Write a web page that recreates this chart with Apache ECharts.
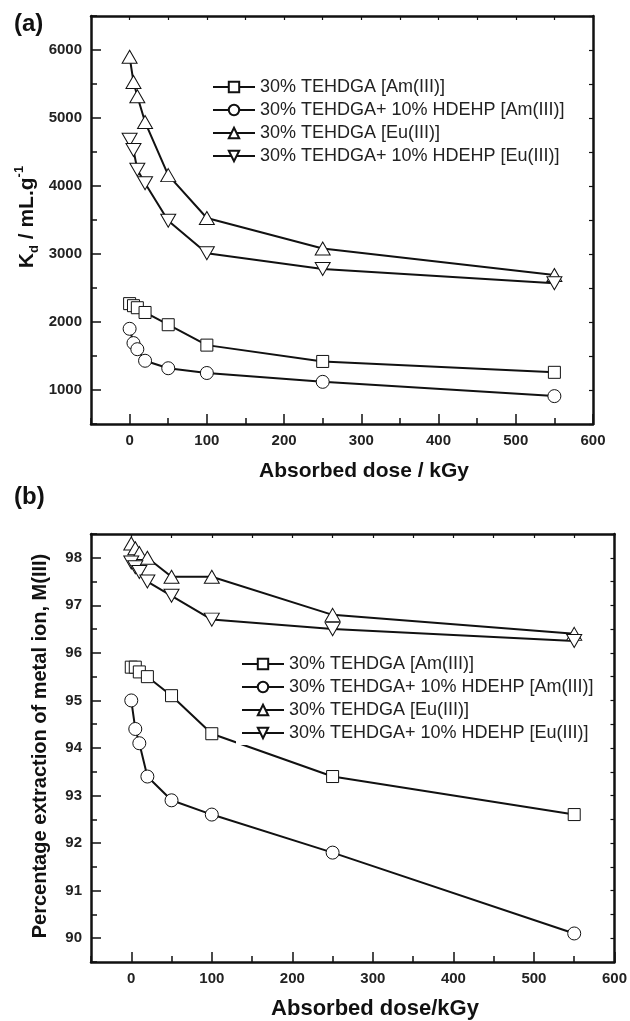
<!DOCTYPE html>
<html>
<head>
<meta charset="utf-8">
<script src="https://cdn.jsdelivr.net/npm/echarts@6.0.0/dist/echarts.min.js"></script>
<style>
  html, body { margin: 0; padding: 0; background: #fff; }
  #main { width: 630px; height: 1021px; }
</style>
</head>
<body>
<div id="main"></div>
<script>
// absorbed dose (kGy)
const doses = [0, 5, 10, 20, 50, 100, 250, 550];

const seriesNames = [
  '30% TEHDGA [Am(III)]',
  '30% TEHDGA+ 10% HDEHP [Am(III)]',
  '30% TEHDGA [Eu(III)]',
  '30% TEHDGA+ 10% HDEHP [Eu(III)]'
];

// (a) Kd / mL.g-1
const kdAmTehdga = [2270, 2240, 2210, 2140, 1960, 1660, 1420, 1260];
const kdAmHdehp = [1900, 1690, 1600, 1430, 1320, 1250, 1120, 910];
const kdEuTehdga = [5900, 5530, 5320, 4940, 4160, 3530, 3080, 2690];
const kdEuHdehp = [4680, 4530, 4240, 4040, 3490, 3010, 2780, 2570];

// (b) percentage extraction
const peAmTehdga = [95.7, 95.7, 95.6, 95.5, 95.1, 94.3, 93.4, 92.6];
const peAmHdehp = [95.0, 94.4, 94.1, 93.4, 92.9, 92.6, 91.8, 90.1];
const peEuTehdga = [98.3, 98.2, 98.1, 98.0, 97.6, 97.6, 96.8, 96.4];
const peEuHdehp = [97.9, 97.8, 97.7, 97.5, 97.2, 96.7, 96.5, 96.25];

// tick labels
const doseTicks = [0, 100, 200, 300, 400, 500, 600];
const kdTicks = [1000, 2000, 3000, 4000, 5000, 6000];
const peTicks = [90, 91, 92, 93, 94, 95, 96, 97, 98];

const FONT = '"Liberation Sans", Arial, sans-serif';
const INK = '#111';
const downTri = 'path://M0,0 L10,0 L5,9 Z';
const symbols = ['rect', 'circle', 'triangle', downTri];
const symbolSizes = [12, 13, [15, 13], [15, 13]];

const chart = echarts.init(document.getElementById('main'), null, { renderer: 'canvas' });

const plain = v => String(v);

function xAxes(g) {
  const base = { gridIndex: g, type: 'value', min: -50, max: 600, splitLine: { show: false } };
  return [
    Object.assign({}, base, {
      position: 'bottom',
      axisLine: { show: true, onZero: false, lineStyle: { color: INK, width: 2.5 } },
      axisTick: { show: true, inside: true, length: 10, customValues: doseTicks, lineStyle: { color: INK, width: 1.5 } },
      axisLabel: { customValues: doseTicks, formatter: plain, margin: 9, fontSize: 15, fontWeight: 'bold', color: '#222', fontFamily: FONT }
    }),
    Object.assign({}, base, {
      position: 'bottom', interval: 50,
      axisLine: { show: false, onZero: false },
      axisTick: { show: true, inside: true, length: 6, lineStyle: { color: INK, width: 1.5 } },
      axisLabel: { show: false }
    }),
    Object.assign({}, base, {
      position: 'top', interval: 50,
      axisLine: { show: true, onZero: false, lineStyle: { color: INK, width: 2.5 } },
      axisTick: { show: true, inside: true, length: 4, lineStyle: { color: INK, width: 1.2 } },
      axisLabel: { show: false }
    })
  ];
}

function yAxes(g, min, max, minorStep, ticks) {
  const base = { gridIndex: g, type: 'value', min: min, max: max, splitLine: { show: false } };
  return [
    Object.assign({}, base, {
      position: 'left',
      axisLine: { show: true, onZero: false, lineStyle: { color: INK, width: 2.5 } },
      axisTick: { show: true, inside: true, length: 10, customValues: ticks, lineStyle: { color: INK, width: 1.5 } },
      axisLabel: { customValues: ticks, formatter: plain, margin: 9, fontSize: 15, fontWeight: 'bold', color: '#222', fontFamily: FONT }
    }),
    Object.assign({}, base, {
      position: 'left', interval: minorStep,
      axisLine: { show: false, onZero: false },
      axisTick: { show: true, inside: true, length: 6, lineStyle: { color: INK, width: 1.5 } },
      axisLabel: { show: false }
    }),
    Object.assign({}, base, {
      position: 'right', interval: minorStep,
      axisLine: { show: true, onZero: false, lineStyle: { color: INK, width: 2.5 } },
      axisTick: { show: true, inside: true, length: 4, lineStyle: { color: INK, width: 1.2 } },
      axisLabel: { show: false }
    })
  ];
}

function lineSeries(i, values, xIdx, yIdx) {
  return {
    name: seriesNames[i],
    type: 'line',
    xAxisIndex: xIdx,
    yAxisIndex: yIdx,
    data: doses.map((d, k) => [d, values[k]]),
    symbol: symbols[i],
    symbolSize: symbolSizes[i],
    showAllSymbol: true,
    lineStyle: { color: INK, width: 2 },
    itemStyle: { color: '#fff', borderColor: INK, borderWidth: 1 },
    emphasis: { disabled: true },
    animation: false
  };
}

const legendBase = {
  orient: 'vertical',
  itemWidth: 42,
  itemHeight: 13,
  itemGap: 3,
  padding: [2, 5],
  data: seriesNames,
  selectedMode: false,
  textStyle: { fontSize: 18, lineHeight: 20, color: '#222', fontFamily: FONT }
};

const option = {
  backgroundColor: '#fff',
  animation: false,
  grid: [
    { left: 91, top: 16, width: 502, height: 408 },
    { left: 91, top: 534, width: 524, height: 428 }
  ],
  xAxis: xAxes(0).concat(xAxes(1)),
  yAxis: yAxes(0, 500, 6500, 500, kdTicks).concat(yAxes(1, 89.5, 98.5, 0.5, peTicks)),
  legend: [
    Object.assign({}, legendBase, { left: 207, top: 75 }),
    Object.assign({}, legendBase, { left: 236, top: 652, backgroundColor: '#fff' })
  ],
  series: [
    lineSeries(0, kdAmTehdga, 0, 0),
    lineSeries(1, kdAmHdehp, 0, 0),
    lineSeries(2, kdEuTehdga, 0, 0),
    lineSeries(3, kdEuHdehp, 0, 0),
    lineSeries(0, peAmTehdga, 3, 3),
    lineSeries(1, peAmHdehp, 3, 3),
    lineSeries(2, peEuTehdga, 3, 3),
    lineSeries(3, peEuHdehp, 3, 3)
  ],
  graphic: [
    { type: 'text', left: 14, top: 12, style: { text: '(a)', font: 'bold 24px ' + FONT, fill: INK } },
    { type: 'text', left: 14, top: 485, style: { text: '(b)', font: 'bold 24px ' + FONT, fill: INK } },
    {
      type: 'text', x: 364, y: 471,
      style: { text: 'Absorbed dose / kGy', font: 'bold 21px ' + FONT, fill: INK,
        align: 'center', verticalAlign: 'middle', textAlign: 'center', textVerticalAlign: 'middle' }
    },
    {
      type: 'text', x: 375, y: 1009,
      style: { text: 'Absorbed dose/kGy', font: 'bold 22px ' + FONT, fill: INK,
        align: 'center', verticalAlign: 'middle', textAlign: 'center', textVerticalAlign: 'middle' }
    },
    {
      type: 'text', x: 27, y: 217, rotation: Math.PI / 2,
      style: {
        text: '{b|K}{sub|d}{b| / mL.g}{sup|-1}',
        align: 'center', verticalAlign: 'middle', textAlign: 'center', textVerticalAlign: 'middle',
        fill: INK,
        rich: {
          b: { fontSize: 21, fontWeight: 'bold', fontFamily: FONT, lineHeight: 28, fill: INK },
          sub: { fontSize: 13, fontWeight: 'bold', fontFamily: FONT, lineHeight: 13, verticalAlign: 'bottom', fill: INK },
          sup: { fontSize: 13, fontWeight: 'bold', fontFamily: FONT, lineHeight: 13, verticalAlign: 'top', fill: INK }
        }
      }
    },
    {
      type: 'text', x: 40, y: 746, rotation: Math.PI / 2,
      style: { text: 'Percentage extraction of metal ion, M(III)', font: 'bold 20px ' + FONT, fill: INK,
        align: 'center', verticalAlign: 'middle', textAlign: 'center', textVerticalAlign: 'middle' }
    }
  ]
};

chart.setOption(option);
</script>
</body>
</html>
